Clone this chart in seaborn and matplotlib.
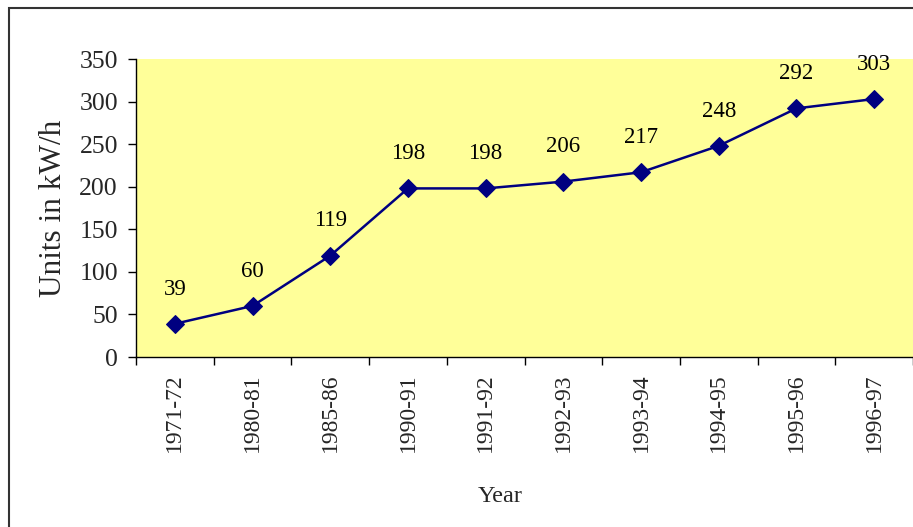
import matplotlib
matplotlib.use("Agg")
import matplotlib.pyplot as plt
import seaborn as sns
import pandas as pd
from matplotlib.patches import Rectangle

years = ["1971-72", "1980-81", "1985-86", "1990-91", "1991-92",
         "1992-93", "1993-94", "1994-95", "1995-96", "1996-97"]
units = [39, 60, 119, 198, 198, 206, 217, 248, 292, 303]
y_ticks = [0, 50, 100, 150, 200, 250, 300, 350]

df = pd.DataFrame({"Year": years, "Units": units})

sns.set_theme(style="white")
plt.rcParams["font.family"] = ["Liberation Serif", "DejaVu Serif"]

fig = plt.figure(figsize=(9.13, 5.27), dpi=100)
ax = fig.add_axes([136/913, 1-357/527, 1-136/913, (357-59)/527])
ax.set_facecolor("#FFFF99")

x = list(range(len(years)))
sns.lineplot(x=x, y=df["Units"], ax=ax, color="#000080", linewidth=1.8,
             marker="D", markersize=9.5, markeredgecolor="#000080")

for xi, v in zip(x, units):
    ax.annotate(str(v), (xi, v), xytext=(0, 25), textcoords="offset points",
                ha="center", va="center", fontsize=16.5, color="black")

ax.set_xlim(-0.5, len(years) - 0.5)
ax.set_ylim(0, 350)
ax.set_yticks(y_ticks)
ax.set_yticklabels([str(t) for t in y_ticks], fontsize=18.5)
ax.set_xticks(x)
ax.set_xticklabels(years, rotation=90, fontsize=17)
ax.set_xticks([i - 0.5 for i in range(len(years) + 1)], minor=True)
ax.tick_params(axis="x", which="major", length=0, pad=12)
ax.tick_params(axis="x", which="minor", length=6, width=1, color="black", direction="out", bottom=True)
ax.tick_params(axis="y", which="major", length=6, width=1, color="black", direction="out", left=True, pad=7)

for s in ["top", "right"]:
    ax.spines[s].set_visible(False)
for s in ["left", "bottom"]:
    ax.spines[s].set_color("black")
    ax.spines[s].set_linewidth(1)

ax.set_xlabel("Year", fontsize=17.5)
ax.xaxis.set_label_coords((500 - 136) / 777, -(496 - 357) / 298, transform=ax.transAxes)
ax.xaxis.label.set_va("center")
ax.set_ylabel("Units in kW/h", fontsize=22.5, labelpad=8)

fig.patches.append(Rectangle((8.5/913, -0.1), 1.2, 1 - 7.5/527 + 0.1,
                             transform=fig.transFigure, fill=False,
                             edgecolor="#333333", linewidth=1.5, zorder=10))

fig.savefig("out.png", dpi=100)
